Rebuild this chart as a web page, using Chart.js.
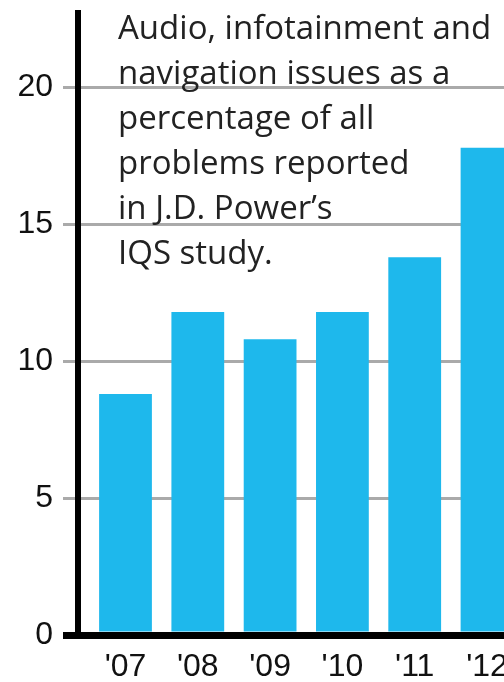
<!DOCTYPE html>
<html>
<head>
<meta charset="utf-8">
<script src="https://cdn.jsdelivr.net/npm/chart.js@4"></script>
<style>
  html, body { margin: 0; padding: 0; background: #fff; overflow: hidden; }
  #wrap { position: relative; width: 504px; height: 682px; }
  #note {
    position: absolute; left: 118px; top: 4px;
    font-family: "Open Sans", sans-serif; font-size: 33px; line-height: 45px;
    color: #222; white-space: nowrap;
  }
</style>
</head>
<body>
<div id="wrap">
  <canvas id="chart" width="504" height="682"></canvas>
  <div id="note">Audio, infotainment and<br>navigation issues as a<br>percentage of all<br>problems reported<br>in J.D. Power’s<br>IQS study.</div>
</div>
<script>
var years = ["'07", "'08", "'09", "'10", "'11", "'12"];
var shares = [8.8, 11.8, 10.8, 11.8, 13.8, 17.8];
var yTicks = [0, 5, 10, 15, 20];

var tickFont = { family: "'Liberation Sans', Arial, sans-serif", size: 32 };

function noPad(scale) {
    scale.paddingLeft = 0;
    scale.paddingRight = 0;
    scale.paddingTop = 0;
    scale.paddingBottom = 0;
}

new Chart(document.getElementById('chart').getContext('2d'), {
    type: 'bar',
    data: {
        datasets: [{
            data: shares.map(function(v, i) { return { x: i, y: v } }),
            backgroundColor: '#1eb8ec',
            borderWidth: 0,
            categoryPercentage: 1,
            barPercentage: 0.73
        }]
    },
    options: {
        responsive: false,
        animation: false,
        layout: { padding: { top: 12.5, left: 0, right: 0, bottom: 0 } },
        plugins: {
            legend: { display: false },
            tooltip: { enabled: false }
        },
        scales: {
            x: {
                type: 'linear',
                offset: false,
                min: -0.657,
                max: 5.235,
                grid: { display: false, drawTicks: false, offset: false },
                border: { display: true, color: '#000', width: 7, z: 1 },
                ticks: {
                    stepSize: 1,
                    includeBounds: false,
                    autoSkip: false,
                    maxRotation: 0,
                    padding: 13,
                    color: '#111',
                    font: tickFont,
                    callback: function(value) {
                        return years[value] !== undefined ? years[value] : '';
                    }
                },
                afterFit: function(scale) {
                    scale.height = 47;
                    noPad(scale);
                }
            },
            y: {
                min: 0,
                max: 22.74,
                grid: {
                    color: function(ctx) { return ctx.tick && ctx.tick.value === 0 ? '#000' : '#aaaaaa' },
                    lineWidth: function(ctx) { return ctx.tick && ctx.tick.value === 0 ? 7 : 3 },
                    tickLength: 15
                },
                border: { display: true, color: '#000', width: 6, z: 1 },
                afterBuildTicks: function(scale) {
                    scale.ticks = yTicks.map(function(v) { return { value: v } });
                },
                ticks: {
                    padding: 10,
                    color: '#111',
                    font: tickFont
                },
                afterFit: function(scale) {
                    scale.width = 78;
                    noPad(scale);
                }
            }
        }
    }
});
</script>
</body>
</html>
